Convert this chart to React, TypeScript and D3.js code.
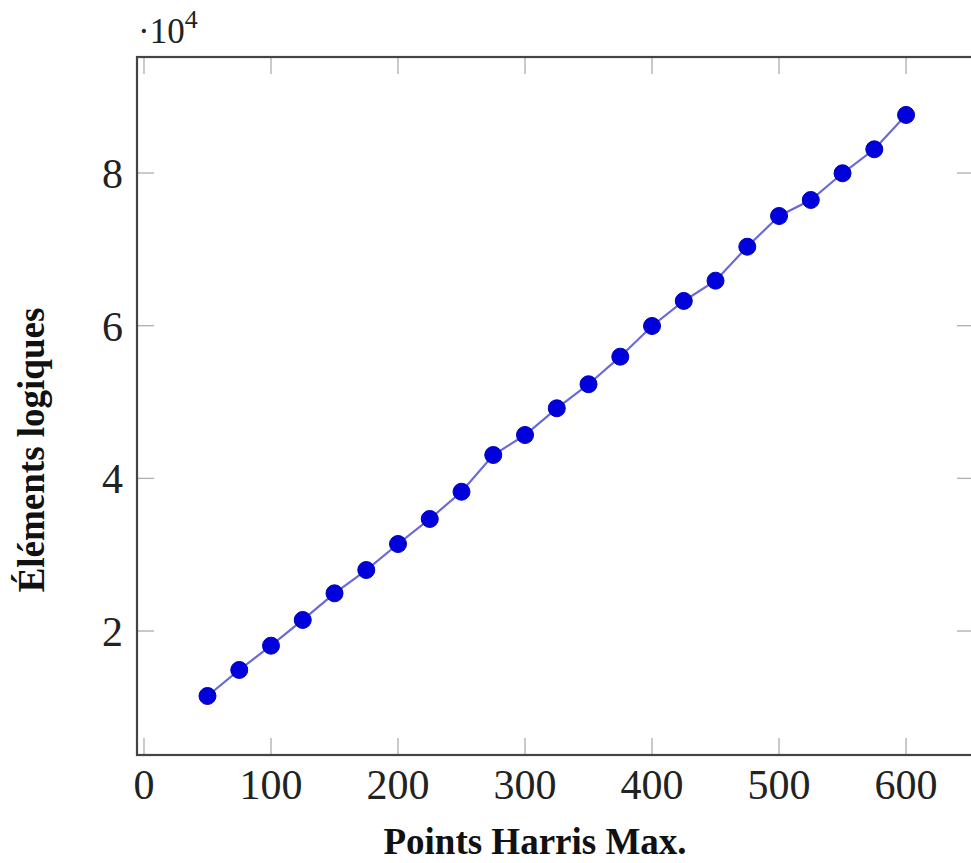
import React from "react";
import * as d3 from "d3";

const xValues = [50, 75, 100, 125, 150, 175, 200, 225, 250, 275, 300, 325, 350, 375, 400, 425, 450, 475, 500, 525, 550, 575, 600];
const yValues = [11490, 14900, 18080, 21450, 24940, 27990, 31400, 34680, 38250, 43060, 45680, 49180, 52330, 55940, 59960, 63240, 65900, 70350, 74370, 76470, 79970, 83110, 87610];
const xTicks = [0, 100, 200, 300, 400, 500, 600];
const yTicks = [20000, 40000, 60000, 80000];
const xLabel = "Points Harris Max.";
const yLabel = "Éléments logiques";

const W = 971;
const H = 863;
const left = 137, right = 974, top = 57, bottom = 755;

export default function App() {
  const x = d3.scaleLinear().domain([-5.5, 653.5]).range([left, right]);
  const y = d3.scaleLinear().domain([3760, 95200]).range([bottom, top]);
  const pts = xValues.map((v, i) => [v, yValues[i]] as [number, number]);
  const line = d3.line<[number, number]>().x(d => x(d[0])).y(d => y(d[1]));
  const tickLen = 17;
  const tickColor = "#b3b3b3";
  const serif = "Liberation Serif, DejaVu Serif, serif";
  return (
    <svg width={W} height={H} style={{ position: "absolute", left: 0, top: 0, background: "#fff" }}>
      <rect x={0} y={0} width={W} height={H} fill="#fff" />
      {xTicks.map(t => (
        <g key={"xt" + t}>
          <line x1={x(t)} x2={x(t)} y1={bottom} y2={bottom - tickLen} stroke={tickColor} strokeWidth={1.4} />
          <line x1={x(t)} x2={x(t)} y1={top} y2={top + tickLen} stroke={tickColor} strokeWidth={1.4} />
          <text x={x(t)} y={799} textAnchor="middle" fontFamily={serif} fontSize={42} fill="#222">{t}</text>
        </g>
      ))}
      {yTicks.map(t => (
        <g key={"yt" + t}>
          <line x1={left} x2={left + tickLen} y1={y(t)} y2={y(t)} stroke={tickColor} strokeWidth={1.4} />
          <line x1={right} x2={right - tickLen} y1={y(t)} y2={y(t)} stroke={tickColor} strokeWidth={1.4} />
          <text x={123} y={y(t) + 15} textAnchor="end" fontFamily={serif} fontSize={42} fill="#222">{t / 10000}</text>
        </g>
      ))}
      <rect x={left} y={top} width={right - left} height={bottom - top} fill="none" stroke="#444" strokeWidth={2.2} />
      <text x={138} y={43} fontFamily={serif} fontSize={35} fill="#222">
        ·10<tspan fontSize={26} dy={-15}>4</tspan>
      </text>
      <path d={line(pts) || ""} fill="none" stroke="#6a6ad6" strokeWidth={2.2} />
      {pts.map((p, i) => (
        <circle key={i} cx={x(p[0])} cy={y(p[1])} r={8.5} fill="#0000dd" stroke="#0000b8" strokeWidth={1} />
      ))}
      <text x={535} y={854} textAnchor="middle" fontFamily={serif} fontWeight="bold" fontSize={37} fill="#111">{xLabel}</text>
      <text transform={`translate(44,450) rotate(-90)`} textAnchor="middle" fontFamily={serif} fontWeight="bold" fontSize={37} fill="#111">{yLabel}</text>
    </svg>
  );
}
